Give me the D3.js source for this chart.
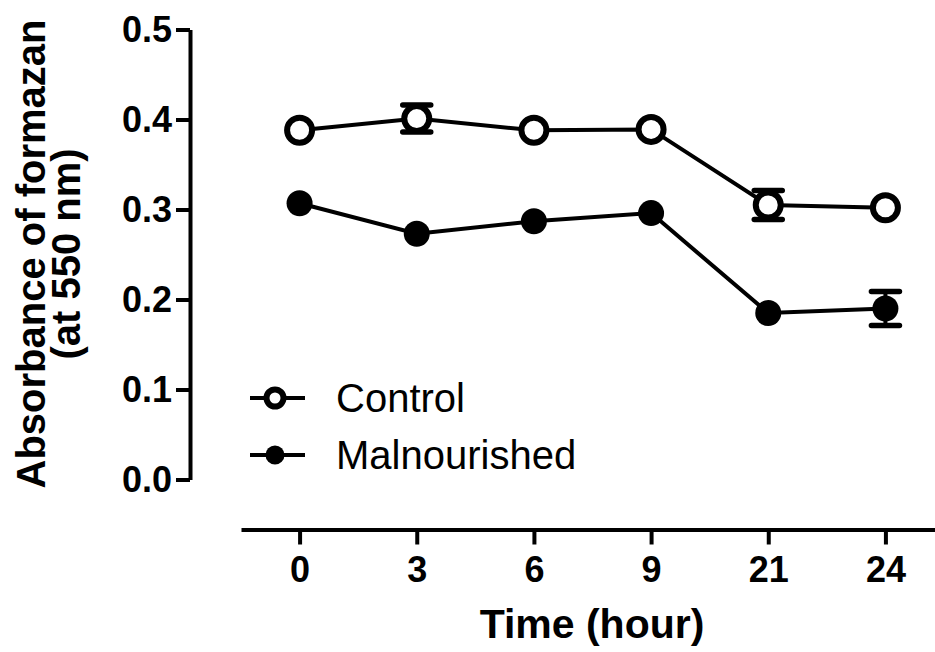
<!DOCTYPE html>
<html>
<head>
<meta charset="utf-8">
<script src="https://cdn.jsdelivr.net/npm/d3@7"></script>
<style>
  body { margin: 0; background: #fff; }
  text { font-family: Arial, "Liberation Sans", sans-serif; }
</style>
</head>
<body>
<div id="dataviz_area"></div>
<script>
// data
const hours = ["0", "3", "6", "9", "21", "24"];
const control = [0.388, 0.401, 0.388, 0.389, 0.305, 0.302];
const controlErr = [0.004, 0.015, 0.004, 0.004, 0.016, 0.004];
const malnourished = [0.307, 0.273, 0.287, 0.296, 0.185, 0.190];
const malnourishedErr = [0.005, 0.005, 0.005, 0.004, 0.005, 0.019];
const yTicks = [0, 0.1, 0.2, 0.3, 0.4, 0.5];

const width = 935, height = 652;

const svg = d3.select("#dataviz_area")
  .append("svg")
    .attr("width", width)
    .attr("height", height);

// scales
const x = d3.scalePoint()
  .domain(hours)
  .range([241, 944])
  .padding(0.5);

const y = d3.scaleLinear()
  .domain([0, 0.5])
  .range([479.5, 29.5]);

// Y axis
const yAxis = svg.append("g")
  .attr("transform", "translate(190,0)")
  .call(d3.axisLeft(y).tickValues(yTicks).tickSize(14).tickSizeOuter(0)
    .tickPadding(4).tickFormat(d3.format(".1f")));

// X axis (detached, below the plot)
const xAxis = svg.append("g")
  .attr("transform", "translate(0,529.5)")
  .call(d3.axisBottom(x).tickSize(15).tickSizeOuter(0).tickPadding(12));

[yAxis, xAxis].forEach(function(g) {
  g.select(".domain").attr("stroke", "#000").attr("stroke-width", 4);
  g.selectAll(".tick line").attr("stroke", "#000").attr("stroke-width", 4);
  g.selectAll(".tick text")
    .attr("fill", "#000")
    .style("font-size", "36px")
    .style("font-weight", "bold")
    .style("font-family", "Arial, 'Liberation Sans', sans-serif");
});

// axis titles
svg.append("text")
  .attr("text-anchor", "middle")
  .attr("x", 592)
  .attr("y", 638)
  .style("font-size", "41px")
  .style("font-weight", "bold")
  .text("Time (hour)");

const yTitle = ["Absorbance of formazan", "(at 550 nm)"];
svg.selectAll("ytitle")
  .data(yTitle)
  .join("text")
    .attr("text-anchor", "middle")
    .attr("transform", (d, i) => `translate(${45 + i * 35},254) rotate(-90)`)
    .style("font-size", "40px")
    .style("font-weight", "bold")
    .text(d => d);

// series
const series = [
  {name: "Control", values: control, err: controlErr, open: true},
  {name: "Malnourished", values: malnourished, err: malnourishedErr, open: false}
];

const line = d3.line()
  .x((d, i) => x(hours[i]))
  .y(d => y(d));

series.forEach(function(s) {
  const pts = s.values.map((v, i) => ({h: hours[i], v: v, e: s.err[i]}));

  // error bars, only where they stick out of the symbol (like Prism)
  const bars = svg.append("g")
    .selectAll("g")
    .data(pts.filter(d => y(d.v - d.e) - y(d.v) > 10))
    .join("g");
  bars.append("line")
    .attr("x1", d => x(d.h)).attr("x2", d => x(d.h))
    .attr("y1", d => y(d.v + d.e)).attr("y2", d => y(d.v - d.e))
    .attr("stroke", "#000").attr("stroke-width", 4);
  [1, -1].forEach(function(sign) {
    bars.append("line")
      .attr("x1", d => x(d.h) - 14).attr("x2", d => x(d.h) + 14)
      .attr("y1", d => y(d.v + sign * d.e)).attr("y2", d => y(d.v + sign * d.e))
      .attr("stroke", "#000").attr("stroke-width", 5.5)
      .attr("stroke-linecap", "round");
  });

  svg.append("path")
    .datum(s.values)
    .attr("fill", "none")
    .attr("stroke", "#000")
    .attr("stroke-width", 4)
    .attr("d", line);

  svg.append("g")
    .selectAll("circle")
    .data(pts)
    .join("circle")
      .attr("cx", d => x(d.h))
      .attr("cy", d => y(d.v))
      .attr("r", s.open ? 12.5 : 13)
      .attr("fill", s.open ? "#fff" : "#000")
      .attr("stroke", "#000")
      .attr("stroke-width", s.open ? 6 : 0);
});

// legend
const legendY = [398, 455];
const lg = svg.selectAll("legend")
  .data(series)
  .join("g")
    .attr("transform", (d, i) => `translate(0,${legendY[i]})`);
lg.append("line")
  .attr("x1", 250).attr("x2", 305)
  .attr("stroke", "#000").attr("stroke-width", 4);
lg.append("circle")
  .attr("cx", 275)
  .attr("r", d => d.open ? 8.5 : 9.5)
  .attr("fill", d => d.open ? "#fff" : "#000")
  .attr("stroke", "#000")
  .attr("stroke-width", d => d.open ? 6 : 0);
lg.append("text")
  .attr("x", 336)
  .attr("y", 14)
  .style("font-size", "40px")
  .text(d => d.name);
</script>
</body>
</html>
